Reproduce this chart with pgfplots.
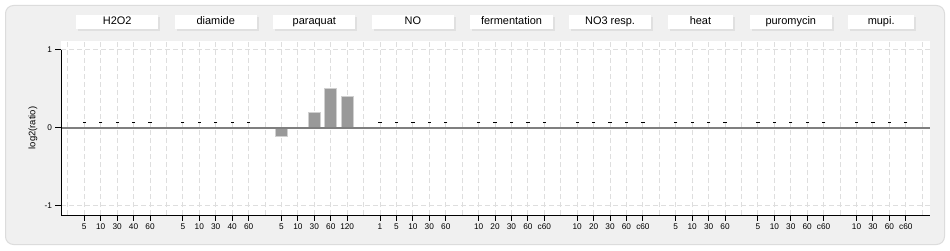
\documentclass[border=0pt]{standalone}
\usepackage{fontspec}
\setmainfont{Liberation Sans}
\usepackage{pgfplots}
\pgfplotsset{compat=1.18}
\definecolor{panel}{HTML}{F0F0F0}
\definecolor{panelborder}{HTML}{DCDCDC}
\definecolor{gridc}{HTML}{DEDEDE}
\definecolor{barc}{HTML}{999999}
\definecolor{baredge}{HTML}{D0D0D0}
\definecolor{zeroc}{HTML}{7F7F7F}
\definecolor{shadowc}{HTML}{E0E0E0}
\begin{document}
\begin{tikzpicture}[x=1bp,y=1bp]
\useasboundingbox (0,0) rectangle (950,250);
\fill[white] (0,0) rectangle (950,250);
\draw[panelborder, fill=panel, rounded corners=8bp, line width=1bp] (5.5,5.5) rectangle (944.5,244.5);
\node[rotate=90, font=\fontsize{9.5}{11}\selectfont] at (33,122) {log2(ratio)};
\begin{axis}[
  at={(61bp,35bp)}, anchor=south west,
  x=16.43bp, y=77.7bp,
  xmin=-1.418, xmax=51.5, ymin=-1.1236, ymax=1.1197,
  clip=false,
  axis background/.style={fill=white},
  axis x line*=bottom, axis y line*=left,
  y axis line style={draw=none},
  x axis line style={black, line width=1bp, -},
  tick align=outside,
  major tick length=5.5bp,
  minor tick length=0pt,
  major tick style={black, line width=1bp},
  xtick={0,1,2,3,4,6,7,8,9,10,12,13,14,15,16,18,19,20,21,22,24,25,26,27,28,30,31,32,33,34,36,37,38,39,41,42,43,44,45,47,48,49,50},
  xticklabels={5,10,30,40,60,5,10,30,40,60,5,10,30,60,120,1,5,10,30,60,10,20,30,60,c60,10,20,30,60,c60,5,10,30,60,5,10,30,60,c60,10,30,60,c60},
  minor xtick={-1,0,...,51},
  ytick={-1,0,1},
  yticklabels={-1,0,1},
  xmajorgrids=false, xminorgrids=true, ymajorgrids=true,
  grid style={gridc, dash pattern=on 5bp off 3bp, line width=1bp},
  minor grid style={gridc, dash pattern=on 5bp off 3bp, line width=1bp},
  tick label style={font=\fontsize{8.3}{10}\selectfont},
  /pgf/number format/assume math mode=true,
]
% paraquat bars
\addplot[ybar, bar width=0.73, fill=barc, draw=baredge, line width=0.8bp]
  coordinates {(12,-0.11) (13,0) (14,0.2) (15,0.5) (16,0.4)};
% zero line
\draw[zeroc, line width=2bp] (axis cs:-1.418,0) -- (axis cs:51.5,0);
% y axis line (from 1 down)
\draw[black, line width=1bp] (axis cs:-1.418,1) -- (axis cs:-1.418,-1.1236);
% no-data markers
\addplot[only marks, mark=-, mark size=1.6bp, mark options={black, line width=1bp}]
  coordinates {(0,0.064) (1,0.064) (2,0.064) (3,0.064) (4,0.064)
  (6,0.064) (7,0.064) (8,0.064) (9,0.064) (10,0.064)
  (18,0.064) (19,0.064) (20,0.064) (21,0.064) (22,0.064)
  (24,0.064) (25,0.064) (26,0.064) (27,0.064) (28,0.064)
  (30,0.064) (31,0.064) (32,0.064) (33,0.064) (34,0.064)
  (36,0.064) (37,0.064) (38,0.064) (39,0.064)
  (41,0.064) (42,0.064) (43,0.064) (44,0.064) (45,0.064)
  (47,0.064) (48,0.064) (49,0.064) (50,0.064)};
% group title boxes
\newcommand{\grp}[3]{%
  \fill[shadowc] ([xshift=2bp,yshift=-2bp]axis cs:#1,1.4543) rectangle ([xshift=2bp,yshift=-2bp]axis cs:#2,1.2664);
  \fill[white] (axis cs:#1,1.4543) rectangle (axis cs:#2,1.2664);
}
\grp{-0.5}{4.5}{}
\grp{5.5}{10.5}{}
\grp{11.5}{16.5}{}
\grp{17.5}{22.5}{}
\grp{23.5}{28.5}{}
\grp{29.5}{34.5}{}
\grp{35.5}{39.5}{}
\grp{40.5}{45.5}{}
\grp{46.5}{50.5}{}
\tikzset{gt/.style={anchor=base, font=\fontsize{11}{13}\selectfont, inner sep=0pt}}
\node[gt] at (axis cs:2,1.322) {H2O2};
\node[gt] at (axis cs:8,1.322) {diamide};
\node[gt] at (axis cs:14,1.322) {paraquat};
\node[gt] at (axis cs:20,1.322) {NO};
\node[gt] at (axis cs:26,1.322) {fermentation};
\node[gt] at (axis cs:32,1.322) {NO3 resp.};
\node[gt] at (axis cs:37.5,1.322) {heat};
\node[gt] at (axis cs:43,1.322) {puromycin};
\node[gt] at (axis cs:48.5,1.322) {mupi.};
\end{axis}
\end{tikzpicture}
\end{document}
